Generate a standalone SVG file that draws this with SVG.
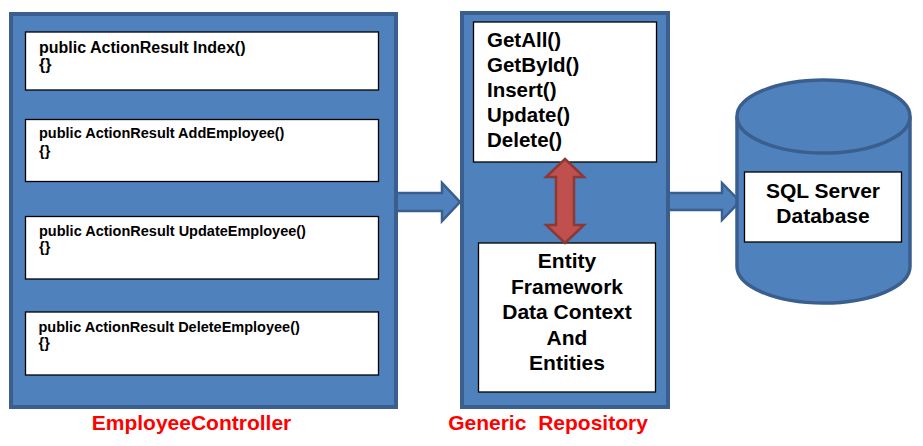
<svg xmlns="http://www.w3.org/2000/svg" width="923" height="446" viewBox="0 0 923 446">
<style>
.cont{fill:#4f81bd;stroke:#3a5f8e;stroke-width:4}
.box{fill:#fff;stroke:#000;stroke-width:1.3}
.t{font-family:"Liberation Sans",Arial,sans-serif;font-weight:bold;fill:#000}
.lbl{font-family:"Liberation Sans",Arial,sans-serif;font-weight:bold;fill:#ff0000;font-size:21px;text-anchor:middle}
.barrow{fill:#4f81bd;stroke:#3a5f8e;stroke-width:2.5;stroke-linejoin:miter}
.rarrow{fill:#c0504d;stroke:#8c3836;stroke-width:2.5}
</style>
<rect width="923" height="446" fill="#fff"/>
<g id="connectors">
<path class="barrow" d="M396,193 H442 V183 L460,202 L442,221 V211 H396 Z"/>
<path class="barrow" d="M667,193 H722 V183 L740,201.5 L722,220 V210 H667 Z"/>
</g>
<g id="employeeController">
<rect class="cont" x="11" y="14" width="385" height="393"/>
<text class="lbl" x="191.5" y="430">EmployeeController</text>
</g>
<g id="indexAction">
<rect class="box" x="25.5" y="32" width="353" height="58"/>
<text class="t" font-size="16" x="39" y="53">public ActionResult Index()</text>
<text class="t" font-size="16" x="39" y="70">{}</text>
</g>
<g id="addAction">
<rect class="box" x="25.5" y="119.5" width="353" height="62"/>
<text class="t" font-size="14.5" x="39" y="138">public ActionResult AddEmployee()</text>
<text class="t" font-size="14.5" x="39" y="156">{}</text>
</g>
<g id="updateAction">
<rect class="box" x="25.5" y="216.5" width="353" height="62.5"/>
<text class="t" font-size="14.5" x="39" y="236">public ActionResult UpdateEmployee()</text>
<text class="t" font-size="14.5" x="39" y="252">{}</text>
</g>
<g id="deleteAction">
<rect class="box" x="25.5" y="312" width="353" height="63"/>
<text class="t" font-size="14.5" x="38.5" y="332">public ActionResult DeleteEmployee()</text>
<text class="t" font-size="14.5" x="38.5" y="348">{}</text>
</g>
<g id="genericRepository">
<rect class="cont" x="462" y="13" width="206" height="394"/>
<text class="lbl" x="548" y="430" word-spacing="6">Generic Repository</text>
</g>
<g id="repoMethods">
<rect class="box" x="473.5" y="22" width="183" height="140"/>
<text class="t" font-size="20.5" x="487" y="47">GetAll()</text>
<text class="t" font-size="20.5" x="487" y="72">GetById()</text>
<text class="t" font-size="20.5" x="487" y="97">Insert()</text>
<text class="t" font-size="20.5" x="487" y="122">Update()</text>
<text class="t" font-size="20.5" x="487" y="147">Delete()</text>
</g>
<g id="entityFramework">
<rect class="box" x="478.5" y="243" width="177" height="149"/>
<text class="t" font-size="21" text-anchor="middle" x="567" y="268">Entity</text>
<text class="t" font-size="21" text-anchor="middle" x="567" y="294">Framework</text>
<text class="t" font-size="21" text-anchor="middle" x="567" y="319">Data Context</text>
<text class="t" font-size="21" text-anchor="middle" x="567" y="345">And</text>
<text class="t" font-size="21" text-anchor="middle" x="567" y="370">Entities</text>
</g>
<g id="doubleArrow">
<path class="rarrow" d="M565,159 L584,177 H574 V225 H584 L565,243 L546,225 H556 V177 H546 Z"/>
</g>
<g id="sqlServer">
<path d="M737,116.5 V266.5 A86.5,36.5 0 0 0 910,266.5 V116.5" fill="#4f81bd" stroke="#3a5f8e" stroke-width="3.5"/>
<ellipse cx="823.5" cy="116.5" rx="86.5" ry="36.5" fill="#4f81bd" stroke="#3a5f8e" stroke-width="3.5"/>
<rect class="box" x="744.5" y="172" width="157" height="70"/>
<text class="t" font-size="21" text-anchor="middle" x="823" y="198">SQL Server</text>
<text class="t" font-size="21" text-anchor="middle" x="823" y="223">Database</text>
</g>
</svg>
